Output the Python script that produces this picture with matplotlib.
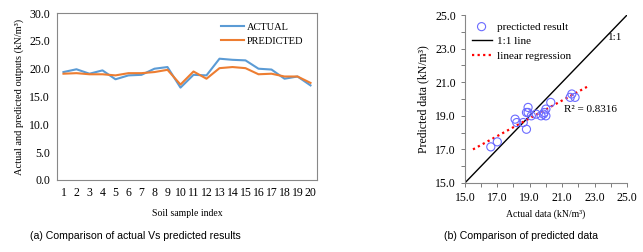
import matplotlib.pyplot as plt
import numpy as np

plt.rcParams['font.family'] = ['Liberation Serif', 'DejaVu Serif']

samples = list(range(1, 21))
actual = [19.4, 19.9, 19.1, 19.7, 18.1, 18.8, 18.9, 20.0, 20.3, 16.6,
          18.9, 18.8, 21.8, 21.6, 21.5, 20.0, 19.85, 18.2, 18.6, 17.0]
predicted = [19.1, 19.2, 19.0, 19.0, 18.8, 19.2, 19.2, 19.4, 19.8, 17.15,
             19.5, 18.2, 20.1, 20.3, 20.1, 19.0, 19.1, 18.6, 18.6, 17.45]
r2_text = "R² = 0.8316"

blue = '#5B9BD5'
orange = '#ED7D31'

fig = plt.figure(figsize=(6.43, 2.52), dpi=100)

# (a) line chart
ax1 = fig.add_axes([0.0886, 0.286, 0.4044, 0.662])
ax1.plot(samples, actual, color=blue, lw=1.5, label='ACTUAL')
ax1.plot(samples, predicted, color=orange, lw=1.5, label='PREDICTED')
ax1.set_xlim(0.5, 20.5)
ax1.set_ylim(0, 30)
ax1.set_xticks(samples)
ax1.set_yticks(np.arange(0, 31, 5))
ax1.set_yticklabels([f"{v:.1f}" for v in np.arange(0, 31, 5)])
ax1.tick_params(length=0, labelsize=8.5, pad=5)
for s in ax1.spines.values():
    s.set_color('#888888')
    s.set_linewidth(0.8)
ax1.set_ylabel('Actual and predicted outputs (kN/m³)', fontsize=7.5, labelpad=4)
ax1.set_xlabel('Soil sample index', fontsize=7, labelpad=7)
ax1.legend(loc='upper right', frameon=False, fontsize=7.5, handlelength=2.2,
           handletextpad=0.3, labelspacing=0.45, borderaxespad=0.5,
           bbox_to_anchor=(0.985, 1.0))

# (b) scatter
ax2 = fig.add_axes([0.723, 0.274, 0.252, 0.666])
ax2.scatter(actual, predicted, s=34, facecolors='none', edgecolors='#6B6BFF',
            lw=0.8, label='precticted result', zorder=3)
ax2.plot([15, 25], [15, 25], color='black', lw=1.0, label='1:1 line')
k, b = np.polyfit(actual, predicted, 1)
xr = np.array([15.5, 22.7])
ax2.plot(xr, k * xr + b, color='red', ls=(0, (1, 1.5)), lw=1.6, label='linear regression')
ax2.set_xlim(15, 25)
ax2.set_ylim(15, 25)
ticks = np.arange(15, 25.1, 2)
ax2.set_xticks(ticks)
ax2.set_yticks(ticks)
ax2.set_xticklabels([f"{v:.1f}" for v in ticks])
ax2.set_yticklabels([f"{v:.1f}" for v in ticks])
ax2.set_xticks(np.arange(15, 25.1, 1), minor=True)
ax2.set_yticks(np.arange(15, 25.1, 1), minor=True)
ax2.tick_params(which='both', direction='out', length=3, width=0.6, color='#666666',
                labelsize=8.5)
ax2.spines['top'].set_visible(False)
ax2.spines['right'].set_visible(False)
ax2.spines['left'].set_color('#888888')
ax2.spines['bottom'].set_color('#888888')
ax2.text(21.1, 19.25, r2_text, fontsize=8)
ax2.text(24.7, 23.5, '1:1', fontsize=8, ha='right')
ax2.set_ylabel('Predicted data (kN/m³)', fontsize=8.5, labelpad=4)
ax2.set_xlabel('Actual data (kN/m³)', fontsize=7, labelpad=4)
ax2.legend(loc='upper left', frameon=False, fontsize=8, handlelength=1.8,
           handletextpad=0.5, labelspacing=0.45, borderaxespad=0.2)

fig.text(0.211, 0.05, '(a) Comparison of actual Vs predicted results',
         family='Liberation Sans', fontsize=7.6, ha='center')
fig.text(0.81, 0.05, '(b) Comparison of predicted data',
         family='Liberation Sans', fontsize=7.6, ha='center')

fig.savefig('out.png', dpi=100)
